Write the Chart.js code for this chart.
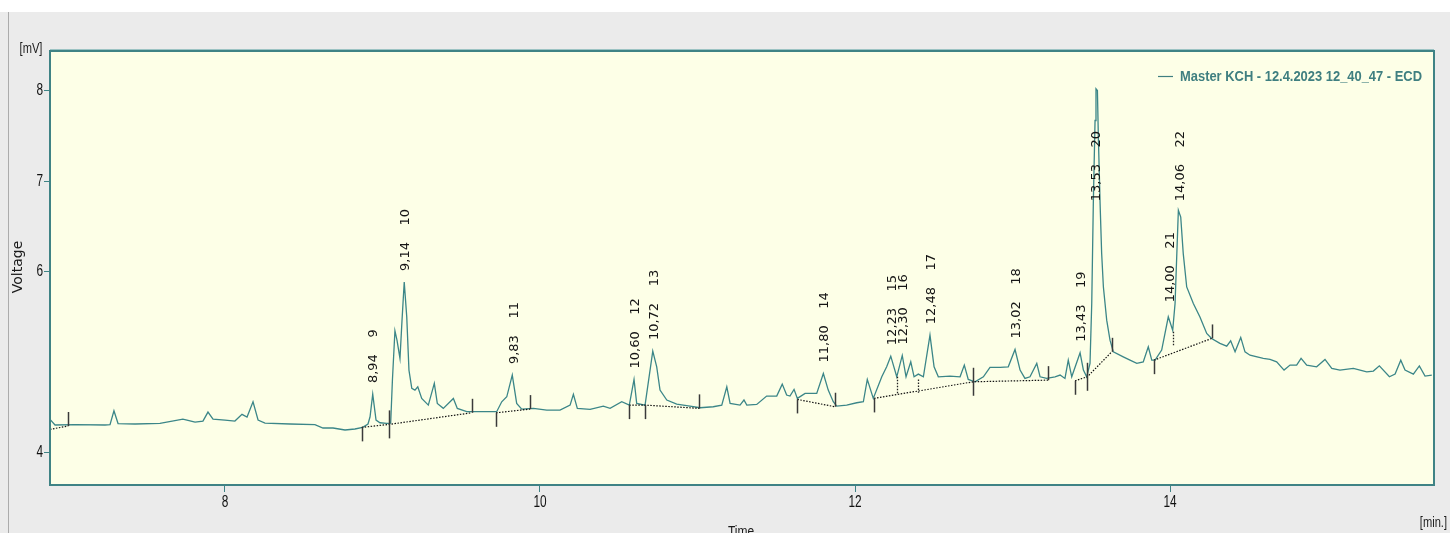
<!DOCTYPE html>
<html><head><meta charset="utf-8">
<script src="https://cdn.jsdelivr.net/npm/chart.js@4.4.1/dist/chart.umd.min.js"></script>
<style>html,body{margin:0;padding:0;background:#fff;}canvas{display:block;}</style>
</head><body>
<canvas id="c" width="1450" height="533"></canvas>
<script>
// ---- chromatogram trace (time [min], voltage [mV]) ----
const traceTime = [
 6.889,6.921,7.048,7.238,7.270,7.295,7.321,7.429,7.587,7.733,
 7.810,7.860,7.892,7.924,8.000,8.063,8.108,8.140,8.178,8.210,
 8.254,8.413,8.571,8.622,8.686,8.762,8.825,8.874,8.908,8.921,
 8.938,8.959,8.984,9.027,9.052,9.063,9.079,9.092,9.111,9.124,
 9.138,9.154,9.168,9.186,9.206,9.224,9.249,9.291,9.329,9.348,
 9.386,9.450,9.475,9.535,9.619,9.725,9.757,9.789,9.824,9.852,
 9.884,9.958,10.043,10.127,10.191,10.212,10.237,10.318,10.402,10.445,
 10.519,10.567,10.597,10.614,10.667,10.716,10.741,10.762,10.805,10.868,
 10.952,11.016,11.100,11.154,11.186,11.207,11.270,11.295,11.313,11.376,
 11.439,11.503,11.538,11.566,11.587,11.613,11.634,11.683,11.757,11.799,
 11.830,11.862,11.884,11.947,12.011,12.053,12.078,12.116,12.170,12.201,
 12.227,12.265,12.300,12.324,12.354,12.375,12.402,12.434,12.476,12.502,
 12.529,12.603,12.667,12.694,12.719,12.762,12.815,12.857,12.921,12.973,
 13.016,13.048,13.079,13.111,13.154,13.175,13.217,13.270,13.302,13.333,
 13.354,13.376,13.429,13.450,13.471,13.492,13.503,13.513,13.524,13.530,
 13.539,13.545,13.556,13.566,13.577,13.598,13.619,13.640,13.703,13.746,
 13.789,13.830,13.862,13.884,13.905,13.947,13.989,14.017,14.032,14.053,
 14.068,14.084,14.106,14.148,14.190,14.233,14.264,14.317,14.360,14.385,
 14.413,14.449,14.476,14.508,14.592,14.635,14.677,14.724,14.762,14.804,
 14.832,14.868,14.931,14.984,15.027,15.079,15.164,15.249,15.291,15.329,
 15.393,15.429,15.465,15.492,15.545,15.583,15.619,15.662
];
const traceVoltage = [
 4.369,4.306,4.311,4.306,4.311,4.464,4.322,4.317,4.325,4.372,
 4.339,4.350,4.449,4.372,4.361,4.350,4.424,4.394,4.563,4.361,
 4.328,4.317,4.311,4.273,4.273,4.251,4.262,4.280,4.317,4.397,
 4.648,4.361,4.331,4.325,4.328,4.802,5.347,5.244,5.042,5.465,
 5.887,5.501,4.913,4.711,4.692,4.728,4.600,4.526,4.766,4.545,
 4.490,4.600,4.490,4.453,4.453,4.453,4.563,4.618,4.858,4.545,
 4.482,4.490,4.471,4.471,4.526,4.645,4.490,4.479,4.515,4.490,
 4.563,4.526,4.810,4.545,4.526,5.123,4.949,4.692,4.582,4.538,
 4.515,4.497,4.508,4.526,4.728,4.545,4.526,4.582,4.526,4.534,
 4.626,4.626,4.758,4.637,4.626,4.700,4.600,4.656,4.656,4.876,
 4.692,4.563,4.515,4.526,4.552,4.563,4.810,4.600,4.839,4.949,
 5.067,4.839,5.075,4.839,5.004,4.839,4.869,4.839,5.299,4.949,
 4.839,4.847,4.839,4.968,4.810,4.784,4.839,4.943,4.943,4.949,
 5.141,4.913,4.821,4.839,4.987,4.839,4.821,4.839,4.858,4.821,
 5.023,4.839,5.104,4.913,4.839,4.987,5.649,6.753,7.672,8.022,
 8.003,7.488,6.753,6.201,5.832,5.465,5.244,5.115,5.060,5.023,
 4.987,5.004,5.170,5.023,5.023,5.134,5.501,5.354,5.649,6.679,
 6.605,6.201,5.832,5.649,5.501,5.318,5.263,5.208,5.178,5.236,
 5.115,5.274,5.115,5.078,5.042,5.031,5.004,4.913,4.968,4.968,
 5.042,4.968,4.949,5.031,4.932,4.913,4.932,4.894,4.902,4.960,
 4.839,4.869,5.023,4.913,4.869,4.960,4.847,4.858
];

// ---- identified peaks ----
const peakNumbers = [9, 10, 11, 12, 13, 14, 15, 16, 17, 18, 19, 20, 21, 22];
const peakLabels  = ['8,94','9,14','9,83','10,60','10,72','11,80','12,23','12,30','12,48','13,02','13,43','13,53','14,00','14,06'];
const peakTimes   = [8.94, 9.14, 9.83, 10.60, 10.72, 11.80, 12.23, 12.30, 12.48, 13.02, 13.43, 13.53, 14.00, 14.06];
const peakHeights = [4.648,5.887,4.858,4.810,5.123,4.876,5.067,5.075,5.299,5.141,5.104,8.022,5.540,6.679];

// ---- integration baselines (null = break) ----
const baseTimes  = [6.889,7.005,null, 8.868,9.043,9.566,null, 9.721,9.937,null, 10.567,10.667,11.012,null, 11.634,11.873,null, 12.121,12.751,13.227,null, 13.397,13.475,13.630,null, 13.898,14.265];
const baseValues = [4.258,4.295,null, 4.280,4.313,4.441,null, 4.441,4.482,null, 4.526,4.526,4.490,null, 4.589,4.508,null, 4.600,4.784,4.802,null, 4.795,4.839,5.115,null, 5.023,5.263];

// ---- peak start/end markers: side 1 = above, -1 = below, 0 = across ----
const markTimes  = [7.005,8.868,9.043,9.566,9.721,9.937,10.567,10.667,11.012,11.634,11.873,12.121,12.751,13.227,13.397,13.475,13.630,13.898,14.265];
const markValues = [4.295,4.280,4.313,4.441,4.441,4.482,4.526,4.526,4.490,4.589,4.508,4.600,4.784,4.802,4.795,4.839,5.115,5.023,5.263];
const markSides  = [1,-1,0,1,-1,1,-1,-1,1,-1,1,-1,0,1,-1,0,1,-1,1];

// ---- drop lines between fused peaks ----
const dropTimes   = [12.265, 12.398, 14.021];
const dropTops    = [4.839, 4.810, 5.336];
const dropBottoms = [4.648, 4.662, 5.170];

// ---- axes ----
const xTickValues = [8, 10, 12, 14];
const yTickValues = [4, 6, 7, 8];
const xRange = [6.889, 15.676];
const yRange = [3.643, 8.44];
const seriesName = 'Master KCH - 12.4.2023 12_40_47 - ECD';

const TEAL = '#3f8385';
const NARROW = '"Liberation Sans", Arial, sans-serif';
const traceData = traceTime.map((t, i) => ({x: t, y: traceVoltage[i]}));
const baseData = baseTimes.map((t, i) => ({x: t === null ? baseTimes[i - 1] : t, y: baseValues[i]}));

// draw horizontally condensed text (emulates a narrow UI font)
function narrowText(ctx, text, x, y, align, font, sx, baseline) {
  ctx.save();
  ctx.font = font;
  ctx.textBaseline = baseline || 'middle';
  ctx.textAlign = 'left';
  const w = ctx.measureText(text).width * sx;
  let x0 = x;
  if (align === 'center') x0 = x - w / 2;
  else if (align === 'right') x0 = x - w;
  ctx.translate(x0, y);
  ctx.scale(sx, 1);
  ctx.fillText(text, 0, 0);
  ctx.restore();
  return w;
}

const bgPlugin = {
  id: 'bg',
  beforeDraw(chart) {
    const {ctx, chartArea: a, width, height} = chart;
    ctx.save();
    ctx.fillStyle = '#ffffff'; ctx.fillRect(0, 0, width, height);
    ctx.fillStyle = '#ebebeb'; ctx.fillRect(0, 12, width, height - 12);
    ctx.fillStyle = '#ababab'; ctx.fillRect(8, 12, 1, height - 12);
    ctx.fillStyle = '#fdffe7'; ctx.fillRect(a.left, a.top, a.right - a.left, a.bottom - a.top);
    ctx.restore();
  }
};

const decoPlugin = {
  id: 'deco',
  afterDatasetsDraw(chart) {
    const {ctx, chartArea: a, scales: {x, y}} = chart;
    ctx.save();
    // markers
    ctx.strokeStyle = '#3a3a3a'; ctx.lineWidth = 1.5;
    markTimes.forEach((t, i) => {
      const px = Math.round(x.getPixelForValue(t)) + 0.5;
      const py = y.getPixelForValue(markValues[i]);
      const s = markSides[i];
      const y1 = s === -1 ? py : py - 14;
      const y2 = s === 1 ? py : py + 14;
      ctx.beginPath(); ctx.moveTo(px, y1); ctx.lineTo(px, y2); ctx.stroke();
    });
    // drop lines
    ctx.setLineDash([1.5, 1.5]); ctx.lineWidth = 1.3; ctx.strokeStyle = '#222';
    dropTimes.forEach((t, i) => {
      const px = Math.round(x.getPixelForValue(t)) + 0.5;
      ctx.beginPath(); ctx.moveTo(px, y.getPixelForValue(dropTops[i])); ctx.lineTo(px, y.getPixelForValue(dropBottoms[i])); ctx.stroke();
    });
    ctx.setLineDash([]);
    // peak labels
    ctx.font = '13px "DejaVu Sans"';
    ctx.fillStyle = '#151515';
    ctx.textAlign = 'left'; ctx.textBaseline = 'middle';
    peakTimes.forEach((t, i) => {
      const txt = peakLabels[i] + '    ' + peakNumbers[i];
      const w = ctx.measureText(txt).width;
      const px = x.getPixelForValue(t) + 1;
      let bottom = y.getPixelForValue(peakHeights[i]) - 11;
      if (bottom - w < a.top + 80) bottom = a.top + 80 + w;
      ctx.save(); ctx.translate(px, bottom); ctx.rotate(-Math.PI / 2);
      ctx.fillText(txt, 0, 0); ctx.restore();
    });
    ctx.restore();
  },
  afterDraw(chart) {
    const {ctx, chartArea: a, scales: {x, y}} = chart;
    ctx.save();
    // plot frame
    ctx.strokeStyle = TEAL; ctx.lineWidth = 2;
    ctx.strokeRect(a.left, a.top, a.right - a.left, a.bottom - a.top);
    ctx.strokeStyle = '#9cc3c3'; ctx.lineWidth = 1;
    ctx.beginPath(); ctx.moveTo(a.left, a.top - 1.5); ctx.lineTo(a.right, a.top - 1.5); ctx.stroke();
    // tick labels
    ctx.fillStyle = '#111';
    xTickValues.forEach(v => narrowText(ctx, String(v), x.getPixelForValue(v), a.bottom + 18, 'center', '16px ' + NARROW, 0.74));
    yTickValues.forEach(v => narrowText(ctx, String(v), a.left - 7, y.getPixelForValue(v), 'right', '16px ' + NARROW, 0.74));
    // legend
    ctx.fillStyle = '#3f7f80';
    const tx = a.right - 12, ty = a.top + 26;
    ctx.font = 'bold 15px ' + NARROW;
    const sx = 242 / ctx.measureText(seriesName).width;
    const tw = narrowText(ctx, seriesName, tx, ty, 'right', 'bold 15px ' + NARROW, sx);
    ctx.strokeStyle = '#3f7f80'; ctx.lineWidth = 1.2;
    ctx.beginPath(); ctx.moveTo(tx - tw - 22, ty - 0.5); ctx.lineTo(tx - tw - 7, ty - 0.5); ctx.stroke();
    // axis titles
    ctx.fillStyle = '#1a1a1a';
    narrowText(ctx, '[mV]', 31, 49, 'center', '15px ' + NARROW, 0.74);
    narrowText(ctx, '[min.]', 1447, 523, 'right', '15px ' + NARROW, 0.74);
    narrowText(ctx, 'Time', 741, 524, 'center', '15px ' + NARROW, 0.8, 'top');
    ctx.font = '14px "DejaVu Sans"'; ctx.textAlign = 'center'; ctx.textBaseline = 'middle';
    ctx.save(); ctx.translate(18, 267); ctx.rotate(-Math.PI / 2);
    ctx.fillText('Voltage', 0, 0); ctx.restore();
    ctx.restore();
  }
};

new Chart(document.getElementById('c'), {
  type: 'line',
  data: {
    datasets: [
      {label: 'baseline', data: baseData, borderColor: '#111', borderWidth: 1.2, borderDash: [1.5, 1.5],
       pointRadius: 0, spanGaps: false, order: 0},
      {label: seriesName, data: traceData, borderColor: '#3b8688', borderWidth: 1.3,
       pointRadius: 0, tension: 0, order: 1}
    ]
  },
  options: {
    responsive: false, animation: false, devicePixelRatio: 1,
    layout: {padding: {left: 0, top: 51, right: 16, bottom: 0}},
    plugins: {legend: {display: false}, tooltip: {enabled: false}},
    scales: {
      x: {
        type: 'linear', min: xRange[0], max: xRange[1],
        afterBuildTicks: s => { s.ticks = xTickValues.map(v => ({value: v})); },
        afterFit: s => { s.height = 48; },
        grid: {drawOnChartArea: false, drawTicks: true, tickLength: 7, tickColor: TEAL, tickWidth: 1},
        border: {display: false},
        ticks: {display: false, autoSkip: false}
      },
      y: {
        type: 'linear', min: yRange[0], max: yRange[1],
        afterBuildTicks: s => { s.ticks = yTickValues.map(v => ({value: v})); },
        afterFit: s => { s.width = 50; },
        grid: {drawOnChartArea: false, drawTicks: true, tickLength: 6, tickColor: TEAL, tickWidth: 1},
        border: {display: false},
        ticks: {display: false, autoSkip: false}
      }
    }
  },
  plugins: [bgPlugin, decoPlugin]
});
</script>
</body></html>
